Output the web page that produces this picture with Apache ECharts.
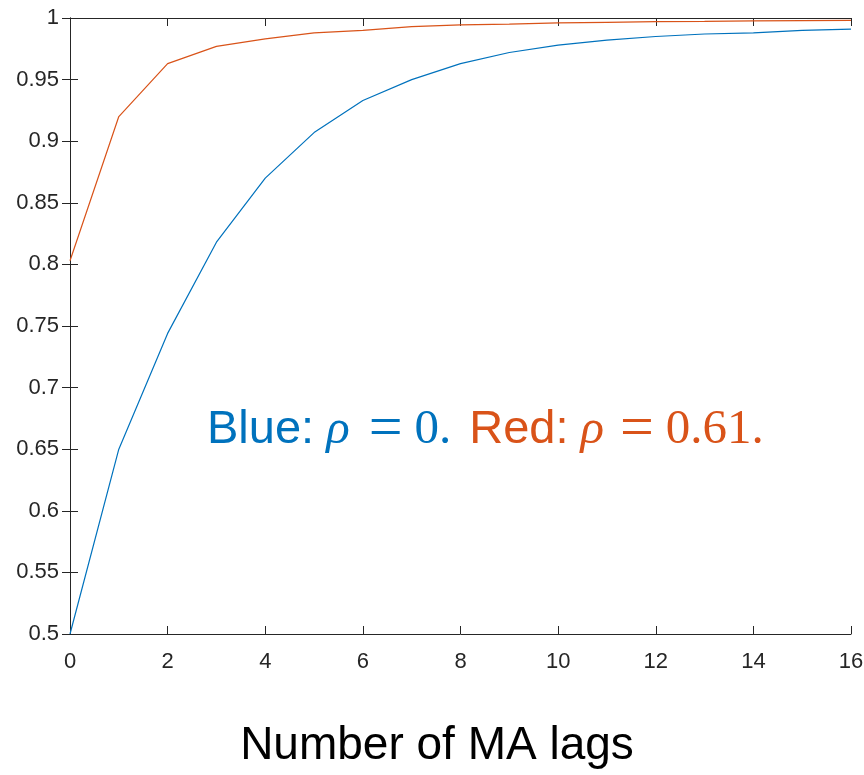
<!DOCTYPE html>
<html>
<head>
<meta charset="utf-8">
<script src="https://cdn.jsdelivr.net/npm/echarts@6/dist/echarts.min.js"></script>
<style>
  html, body { margin: 0; padding: 0; background: #fff; }
  #main { width: 864px; height: 775px; }
</style>
</head>
<body>
<div id="main"></div>
<script>
// number of MA lags
var lags = [0, 1, 2, 3, 4, 5, 6, 7, 8, 9, 10, 11, 12, 13, 14, 15, 16];
// rho = 0 (blue)
var blueVals = [0.5, 0.650, 0.744, 0.818, 0.870, 0.907, 0.933, 0.950, 0.963, 0.972,
                0.978, 0.982, 0.985, 0.987, 0.988, 0.990, 0.991];
// rho = 0.61 (red)
var redVals = [0.803, 0.920, 0.963, 0.977, 0.983, 0.988, 0.990, 0.993, 0.9945, 0.995,
               0.996, 0.9965, 0.997, 0.9972, 0.9976, 0.9978, 0.998];
var xLabel = 'Number of MA lags';

var axisColor = '#262626';
var blue = '#0072BD', red = '#D95319';

function pairs(vals) {
    return lags.map(function (x, i) { return [x, vals[i]]; });
}

// box axes (top / right) without labels, like matlab "box on"
function boxAxis(extra) {
    return Object.assign({
        type: 'value',
        axisLine: { show: true, lineStyle: { color: axisColor, width: 1 } },
        axisTick: { show: true, inside: true, length: 8, lineStyle: { color: axisColor } },
        axisLabel: { show: false },
        splitLine: { show: false }
    }, extra);
}

var sans = 'Liberation Sans', serif = 'Liberation Serif';

// one piece of the annotation
function tok(color, font, size, padLeft, italic) {
    return {
        fontSize: size, fontFamily: font, fill: color,
        fontStyle: italic ? 'italic' : 'normal',
        verticalAlign: 'middle',
        padding: [0, 0, 0, padLeft]
    };
}

var chart = echarts.init(document.getElementById('main'));
chart.setOption({
    animation: false,
    backgroundColor: '#fff',
    grid: { left: 70, right: 13, top: 18, bottom: 141, outerBoundsMode: 'none' },
    xAxis: [{
        type: 'value',
        min: 0, max: 16, interval: 2,
        axisLine: { lineStyle: { color: axisColor, width: 1 } },
        axisTick: { inside: true, length: 8, lineStyle: { color: axisColor } },
        axisLabel: { fontSize: 22, color: axisColor, margin: 17, fontFamily: sans },
        splitLine: { show: false }
    }, boxAxis({ position: 'top', min: 0, max: 16, interval: 2 })],
    yAxis: [{
        type: 'value',
        min: 0.5, max: 1, interval: 0.05,
        axisLine: { show: true, lineStyle: { color: axisColor, width: 1 } },
        axisTick: { show: true, inside: true, length: 8, lineStyle: { color: axisColor } },
        axisLabel: { fontSize: 22, color: axisColor, margin: 11, fontFamily: sans },
        splitLine: { show: false }
    }, boxAxis({ position: 'right', min: 0.5, max: 1, interval: 0.05 })],
    series: [{
        type: 'line',
        data: pairs(blueVals),
        showSymbol: false,
        lineStyle: { color: blue, width: 1.2 },
        itemStyle: { color: blue }
    }, {
        type: 'line',
        data: pairs(redVals),
        showSymbol: false,
        lineStyle: { color: red, width: 1.2 },
        itemStyle: { color: red }
    }],
    graphic: [{
        type: 'text',
        left: 207,
        top: 400,
        style: {
            text: '{bs|Blue:}{bi|ρ}{beq|=}{bm|0.}{rs|Red:}{ri|ρ}{req|=}{rm|0.61.}',
            rich: {
                bs: tok(blue, sans, 47, 0),
                bi: tok(blue, serif, 49, 12, true),
                beq: tok(blue, serif, 60, 19),
                bm: tok(blue, serif, 49, 12),
                rs: tok(red, sans, 47, 18),
                ri: tok(red, serif, 49, 12, true),
                req: tok(red, serif, 60, 16),
                rm: tok(red, serif, 49, 12)
            }
        }
    }, {
        type: 'text',
        x: 437,
        y: 746,
        style: {
            text: xLabel,
            fontSize: 46,
            fontFamily: sans,
            fill: '#000',
            textAlign: 'center',
            textVerticalAlign: 'middle'
        }
    }]
});
</script>
</body>
</html>
